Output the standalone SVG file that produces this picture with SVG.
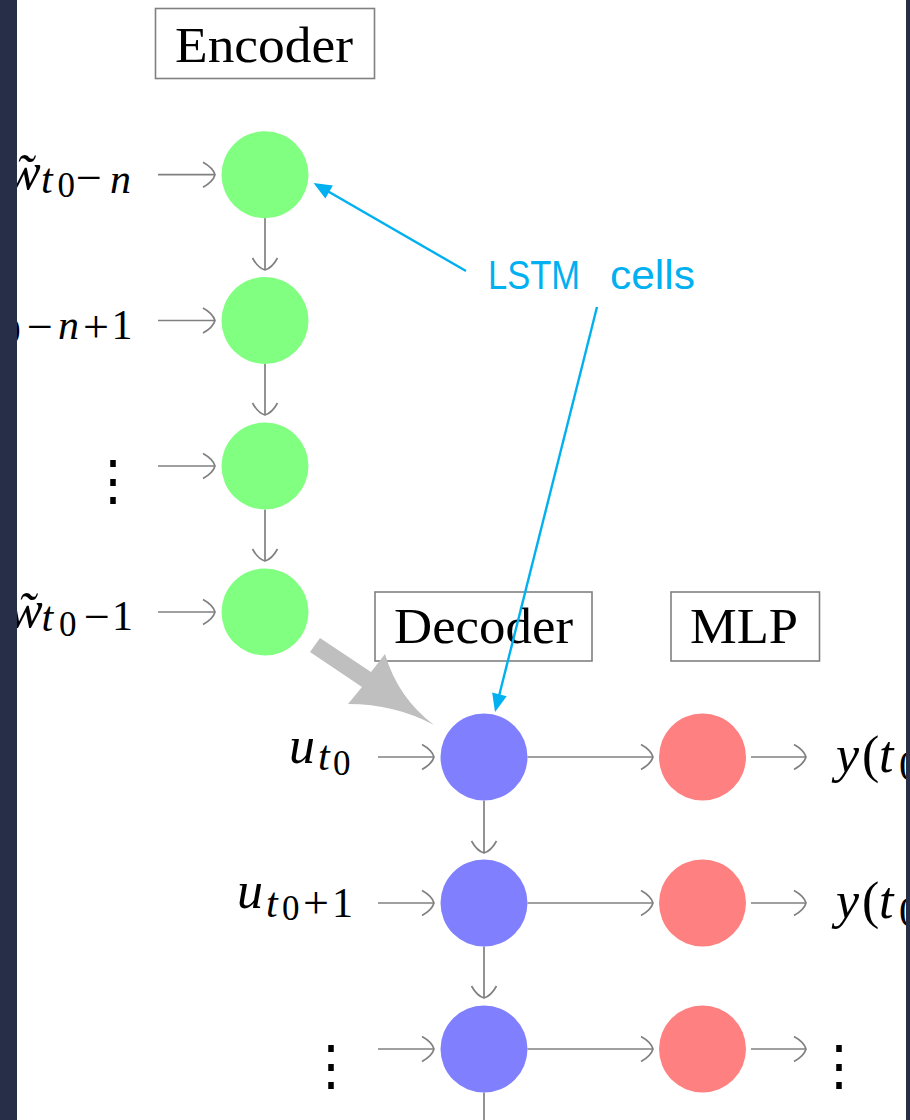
<svg xmlns="http://www.w3.org/2000/svg" width="910" height="1120" viewBox="0 0 910 1120">
<style>
.box{fill:#fff;stroke:#808080;stroke-width:1.6}
.title{font-family:"Liberation Serif",serif;font-size:51px;fill:#000}
.m{font-family:"Liberation Serif",serif;font-size:52px;fill:#000}
.it{font-style:italic}
.sub{font-size:42px}
.ss{font-size:35px}
.op{font-size:46px}
.dots{font-family:"DejaVu Serif",serif;font-size:54px;fill:#000}
.ar{stroke:#808080;stroke-width:1.7;fill:none;marker-end:url(#to)}
.enc{fill:#80ff80}
.dec{fill:#8080ff}
.mlp{fill:#ff8080}
.note{font-family:"Liberation Sans",sans-serif;font-size:40px;fill:#00b0f0}
.bl{stroke:#00b0f0;stroke-width:2.4;fill:none;marker-end:url(#tri)}
</style>
<defs>
<marker id="to" markerUnits="userSpaceOnUse" viewBox="-14 -14 16 28" refX="0" refY="0" markerWidth="16" markerHeight="28" orient="auto">
<path d="M -12,-12.5 Q -2,-7 0,0 Q -2,7 -12,12.5" stroke="#808080" stroke-width="1.7" fill="none"/>
</marker>
<marker id="tri" markerUnits="userSpaceOnUse" viewBox="-16 -9 22 18" refX="0" refY="0" markerWidth="22" markerHeight="18" orient="auto">
<path d="M -14,-7.5 L 4,0 L -14,7.5 Z" fill="#00b0f0"/>
</marker>
</defs>
<rect width="910" height="1120" fill="#fff"/>

<g id="encoder-title"><rect class="box" x="155.5" y="8.5" width="219" height="70"/><text class="title" x="175" y="62" textLength="178" lengthAdjust="spacingAndGlyphs">Encoder</text></g>
<g id="decoder-title"><rect class="box" x="375" y="592" width="217" height="69"/><text class="title" x="394" y="643" textLength="179" lengthAdjust="spacingAndGlyphs">Decoder</text></g>
<g id="mlp-title"><rect class="box" x="671" y="592" width="148.5" height="69"/><text class="title" x="690" y="643" textLength="108" lengthAdjust="spacingAndGlyphs">MLP</text></g>

<g id="connectors">
<line class="ar" x1="158" y1="174.7" x2="215" y2="174.7"/>
<line class="ar" x1="158" y1="320.5" x2="215" y2="320.5"/>
<line class="ar" x1="158" y1="466" x2="215" y2="466"/>
<line class="ar" x1="158" y1="612" x2="215" y2="612"/>
<line class="ar" x1="265" y1="218" x2="265" y2="270"/>
<line class="ar" x1="265" y1="364" x2="265" y2="415"/>
<line class="ar" x1="265" y1="509.5" x2="265" y2="561"/>
<line class="ar" x1="378" y1="757" x2="434" y2="757"/>
<line class="ar" x1="378" y1="903" x2="434" y2="903"/>
<line class="ar" x1="378" y1="1049" x2="434" y2="1049"/>
<line class="ar" x1="527.5" y1="757" x2="653" y2="757"/>
<line class="ar" x1="527.5" y1="903" x2="653" y2="903"/>
<line class="ar" x1="527.5" y1="1049" x2="653" y2="1049"/>
<line class="ar" x1="751" y1="757" x2="806" y2="757"/>
<line class="ar" x1="751" y1="903" x2="806" y2="903"/>
<line class="ar" x1="751" y1="1049" x2="806" y2="1049"/>
<line class="ar" x1="484" y1="800.5" x2="484" y2="853"/>
<line class="ar" x1="484" y1="946.5" x2="484" y2="998"/>
<line x1="484" y1="1092.5" x2="484" y2="1120" stroke="#808080" stroke-width="1.7"/>
<path id="handoff" d="M 320,638 L 371,672 L 385,654 Q 398,698 434,725 Q 395,704 348,704 L 362,687 L 310,652 Z" fill="#bfbfbf"/>
<line class="bl" x1="466" y1="271" x2="317" y2="185"/>
<line class="bl" x1="597" y1="307" x2="496" y2="708"/>
</g>

<g id="enc1"><circle class="enc" cx="265" cy="174.7" r="43.5"/></g>
<g id="enc2"><circle class="enc" cx="265" cy="320.5" r="43.5"/></g>
<g id="enc3"><circle class="enc" cx="265" cy="466" r="43.5"/></g>
<g id="enc4"><circle class="enc" cx="265" cy="612" r="43.5"/></g>
<g id="dec1"><circle class="dec" cx="484" cy="757" r="43.5"/></g>
<g id="dec2"><circle class="dec" cx="484" cy="903" r="43.5"/></g>
<g id="dec3"><circle class="dec" cx="484" cy="1049" r="43.5"/></g>
<g id="mlp1"><circle class="mlp" cx="702.5" cy="757" r="43.5"/></g>
<g id="mlp2"><circle class="mlp" cx="702.5" cy="903" r="43.5"/></g>
<g id="mlp3"><circle class="mlp" cx="702.5" cy="1049" r="43.5"/></g>

<g id="labels">
<text class="m"><tspan class="it" x="6" y="189">w̃</tspan><tspan class="it sub" x="41" y="193">t</tspan><tspan class="ss" x="57.5" y="197">0</tspan><tspan class="op" x="76" y="192.5">−</tspan><tspan class="it sub" x="110" y="193">n</tspan></text>
<text class="m"><tspan class="it" x="-46" y="336">w̃</tspan><tspan class="it sub" x="-12" y="339">t</tspan><tspan class="ss" x="3" y="343">0</tspan><tspan class="op" x="27" y="342">−</tspan><tspan class="it sub" x="58" y="339">n</tspan><tspan class="op" x="83" y="342">+</tspan><tspan class="sub" x="111.5" y="339">1</tspan></text>
<text class="dots" x="86" y="499">⋮</text>
<text class="m"><tspan class="it" x="8" y="627">w̃</tspan><tspan class="it sub" x="41.5" y="631">t</tspan><tspan class="ss" x="59" y="636">0</tspan><tspan class="op" x="84" y="632">−</tspan><tspan class="sub" x="112" y="630">1</tspan></text>
<text class="m"><tspan class="it" x="289" y="763">u</tspan><tspan class="it sub" x="318" y="770">t</tspan><tspan class="ss" x="333" y="775">0</tspan></text>
<text class="m"><tspan class="it" x="237" y="908">u</tspan><tspan class="it sub" x="266" y="916.7">t</tspan><tspan class="ss" x="282" y="919.5">0</tspan><tspan class="op" x="303" y="918">+</tspan><tspan class="sub" x="332" y="916.7">1</tspan></text>
<text class="dots" x="304" y="1084">⋮</text>
<text class="m"><tspan class="it" x="836" y="772">y</tspan><tspan x="862" y="772">(</tspan><tspan class="it" x="879" y="772">t</tspan><tspan class="sub" x="899" y="780">0</tspan></text>
<text class="m"><tspan class="it" x="836" y="918">y</tspan><tspan x="862" y="918">(</tspan><tspan class="it" x="879" y="918">t</tspan><tspan class="sub" x="899" y="926">0</tspan></text>
<text class="dots" x="812" y="1084">⋮</text>
<text class="note"><tspan x="488" y="289" textLength="92" lengthAdjust="spacingAndGlyphs">LSTM</tspan><tspan x="610" y="289" textLength="85" lengthAdjust="spacingAndGlyphs">cells</tspan></text>
</g>

<rect x="0" y="0" width="17" height="1120" fill="#272f48"/>
<rect x="906" y="0" width="4" height="1120" fill="#272f48"/>
</svg>
